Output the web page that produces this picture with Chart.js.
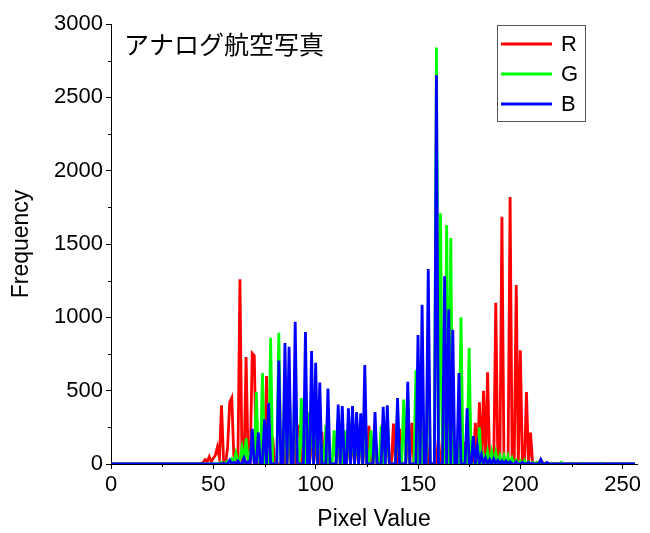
<!DOCTYPE html>
<html>
<head>
<meta charset="utf-8">
<script src="https://cdn.jsdelivr.net/npm/chart.js@4/dist/chart.umd.min.js"></script>
<style>
  html, body { margin: 0; padding: 0; background: #fff; }
  #wrap { width: 650px; height: 533px; }
</style>
</head>
<body>
<div id="wrap"><canvas id="histChart" width="650" height="533"></canvas></div>
<script>
// Chart data
const chartTitle = 'アナログ航空写真';
const seriesNames = ['R', 'G', 'B'];
const seriesColors = ['#ff0000', '#00ff00', '#0000ff'];
const xTicks = [0, 50, 100, 150, 200, 250];
const xMinorTicks = [25, 75, 125, 175, 225];
const yTicks = [0, 500, 1000, 1500, 2000, 2500, 3000];
const yMinorTicks = [250, 750, 1250, 1750, 2250, 2750];

// pixel values 0..256
const pixelValues = Array.from({ length: 257 }, (_, i) => i);

const redCounts = [
    0, 0, 0, 0, 0, 0, 0, 0, 0, 0, 0, 0, 0, 0, 0, 0,
    0, 0, 0, 0, 0, 0, 0, 0, 0, 0, 0, 0, 0, 0, 0, 0,
    0, 0, 0, 0, 0, 0, 0, 0, 0, 0, 0, 0, 5, 10, 30, 15,
    50, 15, 40, 60, 115, 40, 400, 20, 0, 120, 420, 450, 60, 0, 0, 1260,
    0, 0, 730, 0, 0, 755, 740, 0, 0, 0, 0, 0, 600, 0, 0, 180,
    0, 0, 0, 0, 220, 0, 0, 200, 0, 0, 0, 260, 255, 0, 0, 220,
    0, 0, 200, 0, 190, 0, 0, 220, 0, 0, 200, 0, 0, 0, 0, 190,
    0, 180, 0, 0, 190, 0, 200, 0, 180, 0, 190, 0, 210, 0, 260, 0,
    0, 220, 0, 0, 0, 230, 0, 240, 0, 0, 275, 0, 0, 240, 0, 0,
    0, 240, 0, 280, 0, 0, 230, 0, 220, 0, 215, 0, 0, 0, 0, 0,
    185, 0, 0, 150, 0, 0, 0, 150, 0, 0, 140, 0, 0, 150, 0, 0,
    0, 0, 280, 0, 420, 0, 500, 0, 625, 0, 0, 0, 1100, 0, 0, 1685,
    0, 0, 0, 1820, 0, 0, 1220, 0, 775, 0, 0, 490, 0, 215, 0, 0,
    10, 0, 30, 5, 0, 0, 0, 0, 0, 0, 0, 0, 0, 0, 0, 0,
    0, 0, 0, 0, 0, 0, 0, 0, 0, 0, 0, 0, 0, 0, 0, 0,
    0, 0, 0, 0, 0, 0, 0, 0, 0, 0, 0, 0, 0, 0, 0, 0,
    0
];

const greenCounts = [
    0, 0, 0, 0, 0, 0, 0, 0, 0, 0, 0, 0, 0, 0, 0, 0,
    0, 0, 0, 0, 0, 0, 0, 0, 0, 0, 0, 0, 0, 0, 0, 0,
    0, 0, 0, 0, 0, 0, 0, 0, 0, 0, 0, 0, 0, 0, 0, 0,
    0, 0, 0, 0, 0, 5, 12, 5, 10, 20, 15, 35, 10, 75, 20, 30,
    110, 20, 175, 10, 80, 160, 0, 490, 40, 0, 620, 0, 0, 0, 860, 0,
    0, 0, 895, 0, 0, 550, 0, 600, 0, 0, 700, 0, 0, 450, 0, 0,
    355, 0, 500, 0, 450, 0, 380, 0, 0, 265, 0, 0, 0, 230, 0, 300,
    0, 0, 230, 0, 280, 0, 300, 0, 260, 0, 250, 0, 400, 0, 0, 230,
    0, 250, 0, 0, 260, 0, 0, 300, 0, 0, 0, 0, 380, 0, 0, 440,
    0, 480, 0, 0, 0, 640, 0, 690, 0, 0, 0, 900, 0, 0, 0, 2840,
    0, 1710, 0, 0, 1630, 0, 1540, 0, 0, 0, 0, 1000, 0, 0, 0, 790,
    0, 0, 0, 0, 250, 0, 60, 0, 80, 0, 80, 0, 75, 0, 55, 0,
    55, 0, 55, 0, 40, 0, 25, 0, 20, 0, 25, 0, 15, 0, 10, 0,
    10, 0, 15, 0, 5, 0, 0, 5, 0, 0, 0, 0, 10, 0, 0, 0,
    0, 5, 0, 0, 0, 0, 5, 0, 0, 0, 0, 0, 0, 0, 0, 0,
    5, 0, 0, 0, 0, 0, 0, 0, 0, 0, 0, 0, 0, 0, 0, 0,
    0
];

const blueCounts = [
    0, 0, 0, 0, 0, 0, 0, 0, 0, 0, 0, 0, 0, 0, 0, 0,
    0, 0, 0, 0, 0, 0, 0, 0, 0, 0, 0, 0, 0, 0, 0, 0,
    0, 0, 0, 0, 0, 0, 0, 0, 0, 0, 0, 0, 0, 0, 0, 0,
    0, 0, 0, 0, 0, 0, 0, 5, 0, 0, 25, 0, 10, 0, 20, 0,
    0, 40, 0, 15, 0, 240, 0, 0, 215, 0, 0, 305, 0, 415, 0, 0,
    0, 0, 705, 0, 0, 825, 0, 800, 0, 0, 970, 0, 0, 0, 0, 900,
    0, 0, 770, 0, 690, 0, 555, 0, 0, 0, 515, 0, 0, 0, 0, 405,
    0, 395, 0, 0, 380, 0, 395, 0, 355, 0, 345, 0, 675, 0, 0, 0,
    0, 355, 0, 0, 0, 390, 0, 400, 0, 0, 0, 0, 450, 0, 0, 0,
    0, 560, 0, 0, 0, 0, 880, 0, 1085, 0, 0, 1330, 0, 0, 0, 2650,
    0, 0, 0, 1280, 0, 1055, 0, 915, 0, 0, 620, 0, 0, 0, 380, 0,
    0, 190, 0, 115, 0, 60, 0, 40, 0, 30, 0, 35, 0, 25, 0, 20,
    0, 20, 0, 15, 0, 0, 15, 0, 0, 10, 0, 0, 10, 0, 5, 0,
    0, 0, 30, 0, 0, 10, 0, 0, 0, 0, 0, 0, 0, 0, 0, 0,
    0, 0, 0, 0, 0, 0, 0, 0, 0, 0, 0, 0, 0, 0, 0, 0,
    0, 0, 0, 0, 0, 0, 0, 0, 0, 0, 0, 0, 0, 0, 0, 0,
    0
];

const seriesCounts = [redCounts, greenCounts, blueCounts];

const tickFont = { family: '"Liberation Sans", Arial, sans-serif', size: 22 };
const axisTitleFont = { family: '"Liberation Sans", Arial, sans-serif', size: 23 };

// Minor ticks, title text and legend box
const overlayPlugin = {
    id: 'overlay',
    afterDraw(chart) {
        const ctx = chart.ctx;
        const xs = chart.scales.x;
        const ys = chart.scales.y;
        ctx.save();
        ctx.strokeStyle = '#000';
        ctx.lineWidth = 1;
        xMinorTicks.forEach(v => {
            const px = Math.round(xs.getPixelForValue(v)) + 0.5;
            ctx.beginPath();
            ctx.moveTo(px, ys.bottom);
            ctx.lineTo(px, ys.bottom + 3);
            ctx.stroke();
        });
        yMinorTicks.forEach(v => {
            const py = Math.round(ys.getPixelForValue(v)) + 0.5;
            ctx.beginPath();
            ctx.moveTo(xs.left, py);
            ctx.lineTo(xs.left - 3, py);
            ctx.stroke();
        });

        // title inside plot
        ctx.fillStyle = '#000';
        ctx.textBaseline = 'middle';
        ctx.textAlign = 'left';
        ctx.font = '25px "Noto Sans CJK JP", sans-serif';
        ctx.fillText(chartTitle, 124, 44);

        // legend box
        ctx.fillStyle = '#fff';
        ctx.fillRect(497, 25, 88, 96);
        ctx.strokeStyle = '#555';
        ctx.strokeRect(497.5, 25.5, 88, 96);
        ctx.font = '22px "Liberation Sans", Arial, sans-serif';
        seriesNames.forEach((name, i) => {
            const ly = 44 + i * 30;
            ctx.strokeStyle = seriesColors[i];
            ctx.lineWidth = 2.8;
            ctx.beginPath();
            ctx.moveTo(501, ly);
            ctx.lineTo(552, ly);
            ctx.stroke();
            ctx.fillStyle = '#000';
            ctx.fillText(name, 561, ly + 1);
        });
        ctx.restore();
    }
};

const ctx = document.getElementById('histChart').getContext('2d');
const histChart = new Chart(ctx, {
    type: 'line',
    data: {
        datasets: seriesNames.map((name, i) => ({
            label: name,
            data: pixelValues.map((v, j) => ({ x: v, y: seriesCounts[i][j] })),
            borderColor: seriesColors[i],
            backgroundColor: seriesColors[i],
            borderWidth: 2.8,
            pointRadius: 0,
            tension: 0,
            fill: false,
            order: 3 - i
        }))
    },
    options: {
        responsive: false,
        animation: false,
        layout: { padding: { top: 24, right: 13, left: 0, bottom: 0 } },
        plugins: {
            legend: { display: false },
            tooltip: { enabled: false }
        },
        scales: {
            x: {
                type: 'linear',
                min: 0,
                max: 257,
                afterBuildTicks: s => { s.ticks = xTicks.map(v => ({ value: v })); },
                afterFit: s => { s.height = 69; },
                grid: { display: true, drawOnChartArea: false, drawTicks: true, tickLength: 5, color: '#000' },
                border: { display: true, color: '#000', width: 1 },
                ticks: { color: '#000', font: tickFont, padding: 3, maxRotation: 0, callback: v => String(v) },
                title: { display: true, text: 'Pixel Value', color: '#000', font: axisTitleFont, padding: { top: 0, bottom: 0 } }
            },
            y: {
                type: 'linear',
                min: 0,
                max: 3000,
                afterBuildTicks: s => { s.ticks = yTicks.map(v => ({ value: v })); },
                afterFit: s => { s.width = 111; },
                grid: { display: true, drawOnChartArea: false, drawTicks: true, tickLength: 5, color: '#000' },
                border: { display: true, color: '#000', width: 1 },
                ticks: { color: '#000', font: tickFont, padding: 3, callback: v => String(v) },
                title: { display: true, text: 'Frequency', color: '#000', font: axisTitleFont, padding: { top: 8, bottom: 0 } }
            }
        }
    },
    plugins: [overlayPlugin]
});
</script>
</body>
</html>
